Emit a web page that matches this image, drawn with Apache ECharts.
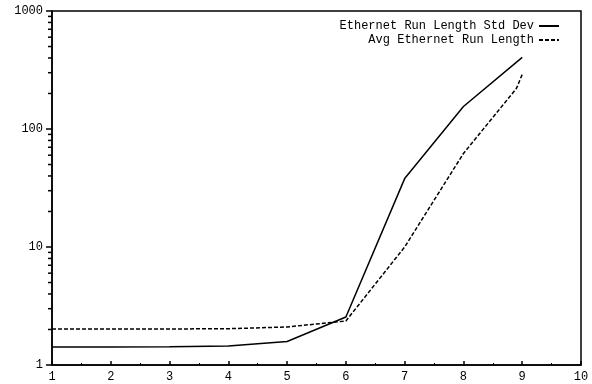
<!DOCTYPE html>
<html>
<head>
<meta charset="utf-8">
<script src="https://cdn.jsdelivr.net/npm/echarts@6/dist/echarts.min.js"></script>
</head>
<body style="margin:0;background:#fff">
<div id="main" style="width:592px;height:384px;"></div>
<script type="text/javascript">
    // values
    var stdX = [1, 2, 3, 4, 5, 6, 7, 8, 9];
    var stdY = [1.42, 1.42, 1.43, 1.45, 1.58, 2.55, 38, 155, 405];
    var avgX = [1, 2, 3, 4, 5, 6, 7, 8, 8.9, 9];
    var avgY = [2.02, 2.02, 2.02, 2.03, 2.1, 2.36, 10, 62, 220, 290];
    var names = ['Ethernet Run Length Std Dev', 'Avg Ethernet Run Length'];
    var minorY = [2, 3, 4, 5, 6, 7, 8, 9, 20, 30, 40, 50, 60, 70, 80, 90, 200, 300, 400, 500, 600, 700, 800, 900];

    function pairs(xs, ys) {
        return xs.map(function (x, i) { return [x, ys[i]]; });
    }

    var font = 'Liberation Mono';
    var myChart = echarts.init(document.getElementById('main'));
    myChart.setOption({
        animation: false,
        grid: {left: 52, right: 11, top: 11, bottom: 19, show: true, borderColor: '#000', borderWidth: 1.5},
        legend: {
            data: names,
            orient: 'vertical',
            right: 27,
            top: 15,
            align: 'right',
            itemWidth: 20,
            itemHeight: 6,
            itemGap: 2,
            itemStyle: {opacity: 0},
            textStyle: {fontFamily: font, fontSize: 12, color: '#000'}
        },
        xAxis: {
            type: 'value', min: 1, max: 10, interval: 1,
            axisLine: {lineStyle: {color: '#000', width: 1.5}},
            axisTick: {inside: true, length: 4, lineStyle: {color: '#000', width: 1.5}},
            minorTick: {show: true, splitNumber: 2, length: 2, lineStyle: {color: '#000'}},
            axisLabel: {fontFamily: font, fontSize: 12, color: '#000', margin: 6},
            splitLine: {show: false}
        },
        yAxis: {
            type: 'log', logBase: 10, min: 1, max: 1000,
            axisLine: {lineStyle: {color: '#000', width: 1.5}},
            axisTick: {length: 6, lineStyle: {color: '#000', width: 1.5}},
            axisLabel: {fontFamily: font, fontSize: 12, color: '#000', margin: 9,
                formatter: function (v) { return String(v); }},
            splitLine: {show: false}
        },
        series: [{
            name: names[0],
            type: 'line',
            data: pairs(stdX, stdY),
            showSymbol: false,
            symbol: 'none',
            lineStyle: {color: '#000', width: 1.5},
            itemStyle: {color: '#000'}
        }, {
            name: names[1],
            type: 'line',
            data: pairs(avgX, avgY),
            showSymbol: false,
            symbol: 'none',
            lineStyle: {color: '#000', width: 1.5, type: [4, 2]},
            itemStyle: {color: '#000'}
        }, {
            // minor decade ticks on the log axis, positioned by the axis scale
            type: 'custom',
            silent: true,
            clip: false,
            z: 5,
            data: minorY.map(function (v) { return [1, v]; }),
            renderItem: function (params, api) {
                var p = api.coord([api.value(0), api.value(1)]);
                return {
                    type: 'line',
                    shape: {x1: p[0] - 4, y1: p[1], x2: p[0], y2: p[1]},
                    style: {stroke: '#000', lineWidth: 1.5}
                };
            }
        }]
    });
</script>
</body>
</html>
